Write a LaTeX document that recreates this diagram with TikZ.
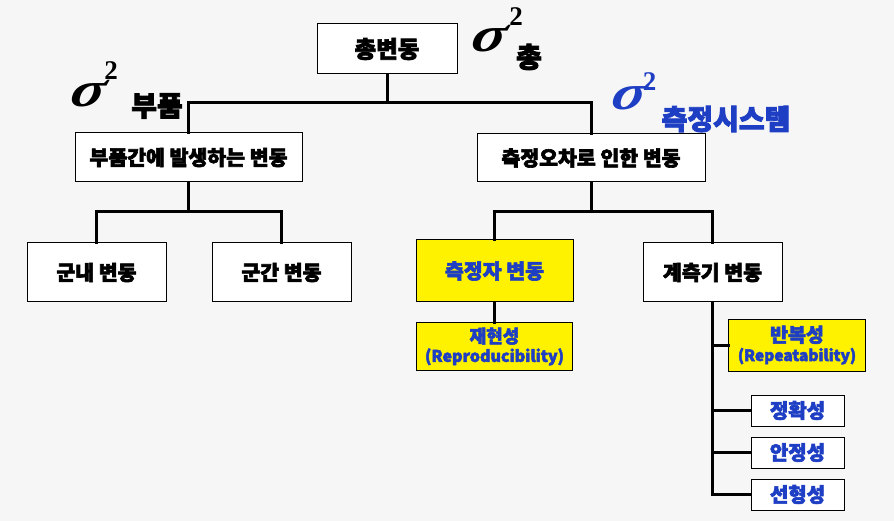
\documentclass[tikz,border=0pt]{standalone}
\usepackage{fontspec}
\setmainfont{Noto Sans CJK KR}[BoldFeatures={FakeBold=3}]
\newfontfamily\sigfont{Liberation Serif}
\begin{document}
\begin{tikzpicture}[x=1pt,y=-1pt,
  box/.style={draw=black, line width=1pt, fill=white, inner sep=0pt, font=\bfseries\fontsize{20.5}{22}\selectfont},
  ybox/.style={box, fill=yellow, text=kblue},
  bbox/.style={box, text=kblue, font=\bfseries\fontsize{20}{22}\selectfont},
  conn/.style={line width=3pt, line cap=rect},
  sigma/.style={inner sep=0pt, xscale=1.25, xslant=0.2, transform shape, font=\sigfont\bfseries\itshape\fontsize{50}{50}\selectfont},
  sq/.style={inner sep=0pt, font=\sigfont\bfseries\fontsize{27}{27}\selectfont},
  slab/.style={inner sep=0pt, font=\bfseries\fontsize{28}{30}\selectfont}]
\definecolor{kblue}{RGB}{30,62,196}
\definecolor{bg}{RGB}{246,246,246}
\fill[bg] (0,0) rectangle (894,521);
\useasboundingbox (0,0) rectangle (894,521);

% nodes
\node[box, minimum width=140pt, minimum height=50pt, font=\bfseries\fontsize{23.5}{25}\selectfont] (tot) at (387,49) {총변동};
\node[box, minimum width=227pt, minimum height=49pt] (part) at (188.5,157.5) {부품간에 발생하는 변동};
\node[box, minimum width=228pt, minimum height=48pt] (meas) at (591,158) {측정오차로 인한 변동};
\node[box, minimum width=139pt, minimum height=59pt] (gun1) at (96.5,272.5) {군내 변동};
\node[box, minimum width=139pt, minimum height=59pt] (gun2) at (281.5,272.5) {군간 변동};
\node[ybox, minimum width=157pt, minimum height=62pt] (oper) at (494.5,271) {측정자 변동};
\node[box, minimum width=139pt, minimum height=59pt] (gyeo) at (712.5,272.5) {계측기 변동};
\node[ybox, minimum width=156pt, minimum height=48pt, align=center] (repro) at (494.5,346.5)
  {{\fontsize{18}{19}\selectfont 재현성}\\[-3pt]{\fontsize{16}{17}\selectfont (Reproducibility)}};
\node[ybox, minimum width=137pt, minimum height=52pt, align=center] (rept) at (797,345)
  {{\fontsize{19.5}{20}\selectfont 반복성}\\[-3pt]{\fontsize{15.5}{17}\selectfont (Repeatability)}};
\node[bbox, minimum width=93pt, minimum height=31pt] (acc) at (797.5,410.5) {정확성};
\node[bbox, minimum width=93pt, minimum height=31pt] (stab) at (797.5,452.5) {안정성};
\node[bbox, minimum width=93pt, minimum height=31pt] (lin) at (797.5,494.5) {선형성};

% sigma labels
\node[sigma] (s1) at (490,38.5) {σ};
\node[sq] (s1q) at (516,17) {2};
\node[slab] (s1l) at (529,57) {총};
\node[sigma] (s2) at (89,93.5) {σ};
\node[sq] (s2q) at (111,71) {2};
\node[slab] (s2l) at (157,106) {부품};
\node[sigma, text=kblue] (s3) at (630,96.5) {σ};
\node[sq, text=kblue] (s3q) at (649.5,81.5) {2};
\node[slab, text=kblue] (s3l) at (726,119) {측정시스템};

% connectors
\coordinate (j1) at (387,103);
\coordinate (j2) at (188.5,212);
\coordinate (j3) at (591,212);
\draw[conn] (tot.south) -- (j1);
\draw[conn] (part.north) |- (j1) -| (meas.north);
\draw[conn] (part.south) -- (j2);
\draw[conn] (gun1.north) |- (j2) -| (gun2.north);
\draw[conn] (meas.south) -- (j3);
\draw[conn] (oper.north) |- (j3) -| (gyeo.north);
\draw[conn] (oper.south) -- (repro.north);
\draw[conn] (gyeo.south) |- (rept.west);
\draw[conn] (gyeo.south) |- (acc.west);
\draw[conn] (gyeo.south) |- (stab.west);
\draw[conn] (gyeo.south) |- (lin.west);
\end{tikzpicture}
\end{document}
